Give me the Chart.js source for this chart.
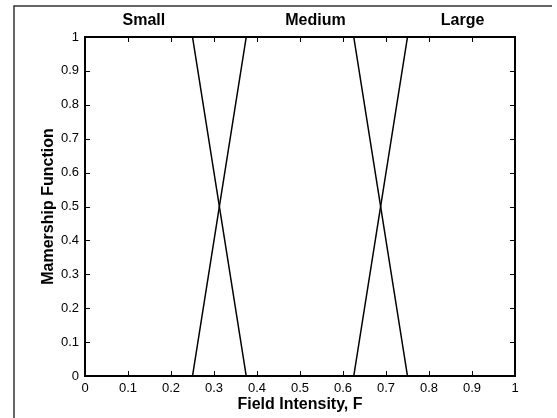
<!DOCTYPE html>
<html>
<head>
<meta charset="utf-8">
<script src="https://cdn.jsdelivr.net/npm/chart.js@4/dist/chart.umd.min.js"></script>
<style>
html,body{margin:0;padding:0;background:#fff;}
#wrap{width:557px;height:418px;position:relative;}
</style>
</head>
<body>
<div id="wrap"><canvas id="c" width="557" height="418"></canvas></div>
<script>
// Data
const setNames = ['Small', 'Medium', 'Large'];
const smallX = [0, 0.25, 0.375];
const smallY = [1, 1, 0];
const mediumX = [0.25, 0.375, 0.625, 0.75];
const mediumY = [0, 1, 1, 0];
const largeX = [0.625, 0.75, 1];
const largeY = [0, 1, 1];
const xTickValues = [0, 0.1, 0.2, 0.3, 0.4, 0.5, 0.6, 0.7, 0.8, 0.9, 1];
const yTickValues = [0, 0.1, 0.2, 0.3, 0.4, 0.5, 0.6, 0.7, 0.8, 0.9, 1];
const xTitle = 'Field Intensity, F';
const yTitle = 'Mamership Function';

function pts(xs, ys) { return xs.map((x, i) => ({x: x, y: ys[i]})); }
function fmt(v) { const r = Math.round(v * 10) / 10; return (r === 0 || r === 1) ? String(r) : r.toFixed(1); }

const FONT = "'Liberation Sans', Arial, sans-serif";

const framePlugin = {
  id: 'frame',
  afterDraw(chart, args, opts) {
    const ctx = chart.ctx;
    const a = chart.chartArea;
    const xs = chart.scales.x, ys = chart.scales.y;
    ctx.save();
    // outer scan frame
    ctx.strokeStyle = '#333';
    ctx.lineWidth = 1.5;
    ctx.beginPath();
    ctx.moveTo(14, 418); ctx.lineTo(14, 6); ctx.lineTo(552, 6);
    ctx.stroke();
    // axes box
    ctx.strokeStyle = '#000';
    ctx.lineWidth = 2;
    ctx.strokeRect(a.left, a.top, a.right - a.left, a.bottom - a.top);
    // inward ticks
    ctx.lineWidth = 1;
    const L = 5;
    ctx.beginPath();
    xTickValues.forEach(v => {
      const px = Math.round(xs.getPixelForValue(v)) + 0.5;
      ctx.moveTo(px, a.bottom); ctx.lineTo(px, a.bottom - L);
      ctx.moveTo(px, a.top); ctx.lineTo(px, a.top + L);
    });
    yTickValues.forEach(v => {
      const py = Math.round(ys.getPixelForValue(v)) + 0.5;
      ctx.moveTo(a.left, py); ctx.lineTo(a.left + L, py);
      ctx.moveTo(a.right, py); ctx.lineTo(a.right - L, py);
    });
    ctx.stroke();
    // set names above the plot
    ctx.fillStyle = '#000';
    ctx.font = 'bold 16px ' + FONT;
    ctx.textAlign = 'center';
    ctx.textBaseline = 'middle';
    setNames.forEach((n, i) => {
      ctx.fillText(n, xs.getPixelForValue(opts.anchors[i]), opts.labelY);
    });
    ctx.restore();
  }
};

const lineStyle = {borderColor: '#000', borderWidth: 1.5, pointRadius: 0, showLine: true, fill: false, tension: 0};

new Chart(document.getElementById('c'), {
  type: 'scatter',
  data: {
    datasets: [
      Object.assign({label: setNames[0], data: pts(smallX, smallY)}, lineStyle),
      Object.assign({label: setNames[1], data: pts(mediumX, mediumY)}, lineStyle),
      Object.assign({label: setNames[2], data: pts(largeX, largeY)}, lineStyle)
    ]
  },
  options: {
    responsive: false,
    animation: false,
    layout: {padding: {top: 37, right: 42, left: 0, bottom: 0}},
    plugins: {
      legend: {display: false},
      tooltip: {enabled: false},
      frame: {anchors: [0.137, 0.536, 0.878], labelY: 21}
    },
    scales: {
      x: {
        type: 'linear', min: 0, max: 1,
        afterFit(s) { s.height = 42; },
        afterBuildTicks(s) { s.ticks = xTickValues.map(v => ({value: v})); },
        grid: {display: false, drawTicks: false},
        border: {display: false},
        ticks: {color: '#000', padding: 5, maxRotation: 0, autoSkip: false,
                font: {family: FONT, size: 13}, callback: v => fmt(v)},
        title: {display: true, text: xTitle, color: '#000', padding: {top: 0, bottom: 4},
                font: {family: FONT, size: 16, weight: 'bold'}}
      },
      y: {
        type: 'linear', min: 0, max: 1,
        afterFit(s) { s.width = 85; },
        afterBuildTicks(s) { s.ticks = yTickValues.map(v => ({value: v})); },
        grid: {display: false, drawTicks: false},
        border: {display: false},
        ticks: {color: '#000', padding: 6, autoSkip: false,
                font: {family: FONT, size: 13}, callback: v => fmt(v)},
        title: {display: true, text: yTitle, color: '#000', padding: {top: 39, bottom: 0},
                font: {family: FONT, size: 16, weight: 'bold'}}
      }
    }
  },
  plugins: [framePlugin]
});
</script>
</body>
</html>
